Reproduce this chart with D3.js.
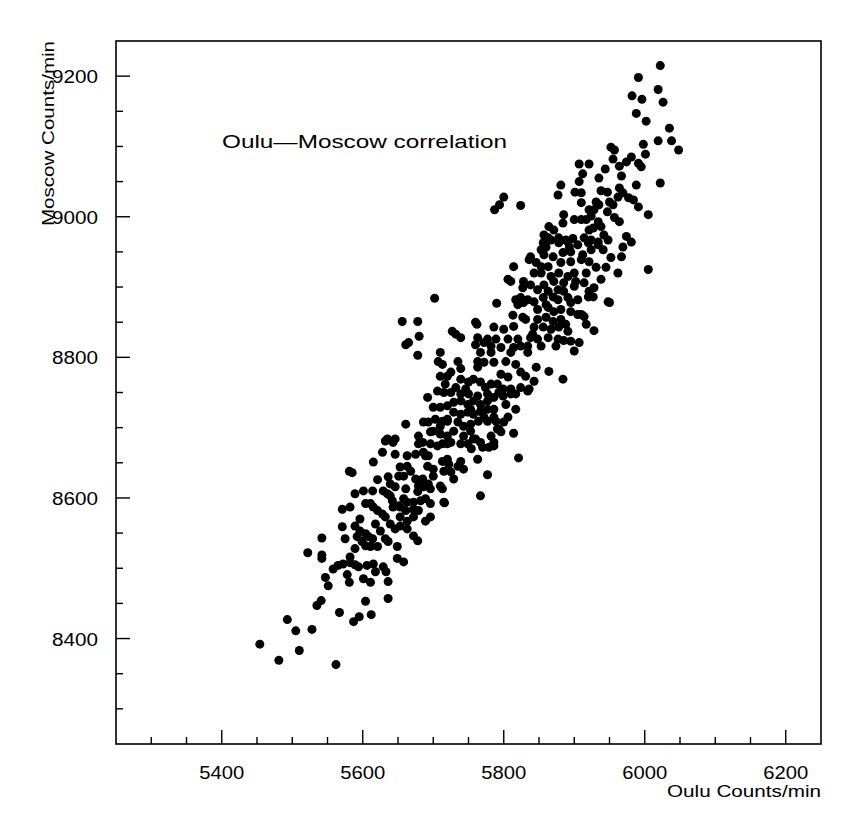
<!DOCTYPE html>
<html>
<head>
<meta charset="utf-8">
<script src="https://cdn.jsdelivr.net/npm/d3@7"></script>
<style>
  html, body { margin: 0; padding: 0; background: #ffffff; }
  svg { display: block; }
  text { font-family: "Liberation Sans", Arial, sans-serif; fill: #000; }
</style>
</head>
<body>
<svg id="chart" width="865" height="825"></svg>
<script>
// Oulu vs Moscow neutron monitor count rates (counts per minute)
const oulu = [
  5454,5481,5493,5505,5510,5528,5562,5535,5541,5567,5587,5595,5612,5604,5636,5547,5551,5558,5565,5572,
  5582,5589,5594,5578,5581,5601,5611,5615,5618,5633,5636,5542,
  5581,5585,5571,5582,5571,5542,5522,5542,5615,5628,5621,5601,5614,5636,5639,5629,5635,5639,
  5642,5653,5663,5668,5651,5658,5663,5675,5686,5689,5632,5643,5679,5706,5720,5713,5722,5675,
  5679,5678,5686,5693,5700,5713,5715,5658,5663,5653,5661,5672,5682,5611,5615,5621,5628,5632,
  5643,5651,5672,5679,5653,5663,5672,5696,5639,5646,5653,5663,5589,5596,5592,5604,5608,5614,
  5625,5599,5604,5611,5621,5636,5649,5672,5678,5589,5582,5649,5658,5606,5629,
  5821,5814,5777,5767,5716,5763,5754,5760,5770,5779,5786,5793,5806,5799,5810,5824,5834,5843,
  5692,5686,5696,5710,5720,5739,5735,5743,5729,5725,5715,5700,5692,5710,5696,5685,5689,5720,5693,
  5661,5665,5680,5678,5710,5707,5713,5735,5739,5732,5727,5763,5772,5777,5767,5782,5796,5763,
  5772,5786,5803,5763,5810,5824,5834,5824,5831,5836,5710,5720,5725,5739,5750,5757,5767,5782,
  5791,5806,5810,5817,5793,5799,5706,5715,5725,5739,5750,5763,5777,5786,5700,5710,5720,5729,
  5739,5749,5757,5767,5777,5786,5800,5777,5661,5693,5713,5720,5729,5739,5749,5757,5767,5735,
  5743,5753,5764,5777,5789,5791,5796,5782,5786,5635,5646,5679,5685,5700,5710,5720,5729,5743,
  5757,5767,5725,5739,5749,5713,
  5702,5656,5678,5739,5760,5760,
  5856,5867,5878,5891,5905,5920,5934,5836,5846,5857,5870,5884,5895,5912,5924,5941,5814,5853,
  5863,5881,5895,5910,5843,5853,5867,5878,5891,5900,5917,5931,5806,5810,5828,5827,5857,5871,
  5885,5900,5914,5848,5863,5877,5885,5921,5928,5927,5824,5834,5843,5856,5870,5877,5891,5905,
  5790,5895,5820,5828,5848,5863,5871,5914,5905,5895,5948,5813,5831,5848,5860,5870,5881,5762,
  5786,5800,5814,5843,5856,5867,5878,5891,5928,5789,5806,5820,5838,5848,5863,5877,5895,5907,
  5782,5814,5834,5853,5874,
  5969,5981,5967,6005,5962,5945,5950,5920,5910,5885,5900,
  5800,5794,5787,5824,5952,5957,5998,6001,5981,5974,5955,5964,5991,5995,5907,5921,5912,5944,
  5935,5967,5881,5907,5988,5877,5901,5910,5938,5947,5964,5969,5962,5910,5931,5935,5950,5955,
  5977,5984,5991,5921,5928,5947,5885,6005,5924,5900,5910,5917,5934,5957,5964,5864,5871,5884,
  5921,5927,5938,5974,5857,5863,5878,5888,5898,5914,5924,5942,5948,5860,5893,5934,5853,5838,
  5991,5982,5996,5988,6002,6022,6019,6026,6035,6038,6048,6019,6022,
  5884,5864,5846,
  5717,5732,5746,5774,5753,5772,5786,5703,5696,5753,5803,5817,5796,5817,
  5827,5841,5860,5881,5888,5917,5902,5938,5921,5952,5838,5817,
  5646,5661,5689,5696,5646,5596,5618,5632,5575,5604,5589
];
const moscow = [
  8392,8369,8427,8411,8383,8413,8363,8447,8454,8437,8424,8431,8434,8453,8457,8487,8475,8499,8504,8506,
  8508,8505,8502,8491,8480,8485,8480,8506,8495,8495,8481,8514,
  8638,8636,8584,8587,8559,8543,8522,8519,8651,8665,8626,8610,8610,8630,8620,8610,8606,8603,
  8596,8644,8645,8638,8631,8631,8660,8662,8665,8660,8681,8679,8677,8674,8677,8652,8648,8627,
  8617,8609,8616,8620,8631,8613,8594,8599,8594,8587,8582,8594,8596,8592,8587,8582,8577,8573,
  8587,8589,8584,8582,8573,8567,8573,8573,8563,8556,8560,8556,8560,8553,8545,8549,8545,8542,
  8553,8538,8532,8531,8531,8538,8531,8546,8539,8528,8516,8514,8509,8504,8502,
  8657,8692,8633,8603,8593,8655,8670,8684,8672,8672,8674,8698,8715,8755,8748,8757,8752,8766,
  8743,8708,8694,8702,8709,8652,8645,8641,8627,8637,8638,8641,8645,8617,8613,8627,8567,8655,8660,
  8818,8821,8830,8803,8807,8794,8790,8794,8784,8833,8837,8828,8821,8826,8807,8807,8814,8794,
  8793,8793,8794,8786,8807,8816,8807,8779,8773,8755,8773,8773,8779,8769,8765,8769,8765,8762,
  8762,8772,8755,8748,8750,8745,8752,8750,8750,8748,8748,8745,8748,8743,8729,8729,8731,8736,
  8738,8733,8738,8733,8738,8726,8708,8726,8705,8708,8709,8712,8722,8719,8722,8719,8723,8708,
  8702,8705,8709,8709,8709,8698,8694,8688,8679,8684,8684,8688,8679,8695,8691,8688,8695,8688,
  8684,8679,8679,8677,8677,8677,
  8884,8851,8851,8828,8850,8818,
  8963,8967,8963,8964,8960,8963,8964,8939,8935,8946,8943,8949,8950,8946,8953,8953,8929,8929,
  8929,8935,8936,8939,8920,8920,8915,8920,8915,8920,8920,8928,8911,8908,8908,8899,8903,8908,
  8906,8901,8906,8896,8894,8896,8894,8894,8899,8886,8885,8882,8879,8885,8886,8882,8885,8882,
  8877,8878,8875,8878,8868,8871,8865,8858,8861,8865,8879,8860,8854,8854,8857,8851,8854,8847,
  8843,8840,8844,8843,8843,8840,8843,8837,8838,8826,8826,8826,8828,8826,8828,8826,8823,8821,
  8816,8814,8816,8816,8816,
  8957,8964,8943,8925,8920,8928,8878,8886,8861,8824,8809,
  9028,9017,9010,9016,9099,9095,9103,9089,9085,9078,9082,9072,9076,9071,9075,9075,9061,9068,
  9055,9058,9045,9050,9045,9031,9035,9034,9037,9035,9041,9034,9028,9020,9021,9017,9021,9017,
  9027,9024,9014,9010,9010,9007,9003,9003,9001,8996,8996,8996,8993,8999,8993,8986,8981,8991,
  8981,8984,8986,8972,8974,8970,8970,8967,8969,8970,8967,8974,8967,8957,8957,8960,8953,8943,
  9198,9172,9167,9147,9136,9215,9181,9163,9126,9108,9095,9108,9048,
  8769,8780,8786,
  8762,8757,8755,8757,8726,8715,8715,8712,8677,8695,8733,8726,8776,8790,
  8857,8833,8875,8868,8847,8847,8908,8911,8936,8942,8903,8882,
  8662,8613,8599,8592,8616,8570,8563,8542,8542,8592,8606
];

const xMajor = [5400, 5600, 5800, 6000, 6200];
const yMajor = [8400, 8600, 8800, 9000, 9200];
const xTitle = "Oulu Counts/min";
const yTitle = "Moscow Counts/min";
const chartTitle = "Oulu\u2014Moscow correlation";

const svg = d3.select("#chart");
svg.append("rect").attr("width", 865).attr("height", 825).attr("fill", "#ffffff");

const frame = { left: 116, right: 821, top: 41, bottom: 744 };
const x = d3.scaleLinear().domain([5250, 6250]).range([frame.left, frame.right]);
const y = d3.scaleLinear().domain([8250, 9250]).range([frame.bottom, frame.top]);

// minor ticks every 50, major every 200, drawn inward from the frame
const xAll = d3.range(5300, 6250, 50);
const yAll = d3.range(8300, 9250, 50);

const gx = svg.append("g").attr("transform", `translate(0,${frame.bottom})`);
gx.selectAll("line").data(xAll).join("line")
  .attr("x1", d => x(d)).attr("x2", d => x(d))
  .attr("y1", 0).attr("y2", d => xMajor.includes(d) ? -14 : -7)
  .attr("stroke", "#000").attr("stroke-width", 1.4);
gx.selectAll("text").data(xMajor).join("text")
  .attr("x", d => x(d)).attr("y", 35)
  .attr("text-anchor", "middle")
  .attr("font-size", 18)
  .attr("textLength", 45).attr("lengthAdjust", "spacingAndGlyphs")
  .text(d => d);

const gy = svg.append("g").attr("transform", `translate(${frame.left},0)`);
gy.selectAll("line").data(yAll).join("line")
  .attr("y1", d => y(d)).attr("y2", d => y(d))
  .attr("x1", 0).attr("x2", d => yMajor.includes(d) ? 14 : 7)
  .attr("stroke", "#000").attr("stroke-width", 1.4);
gy.selectAll("text").data(yMajor).join("text")
  .attr("x", -18).attr("y", d => y(d) + 7)
  .attr("text-anchor", "end")
  .attr("font-size", 18)
  .attr("textLength", 46).attr("lengthAdjust", "spacingAndGlyphs")
  .text(d => d);

// frame
svg.append("rect")
  .attr("x", frame.left).attr("y", frame.top)
  .attr("width", frame.right - frame.left).attr("height", frame.bottom - frame.top)
  .attr("fill", "none").attr("stroke", "#000").attr("stroke-width", 1.6);

// axis titles and caption
svg.append("text")
  .attr("x", frame.right).attr("y", 797)
  .attr("text-anchor", "end").attr("font-size", 17)
  .attr("textLength", 154).attr("lengthAdjust", "spacingAndGlyphs")
  .text(xTitle);

svg.append("text")
  .attr("transform", `translate(54,${frame.top}) rotate(-90)`)
  .attr("text-anchor", "end").attr("font-size", 17)
  .attr("textLength", 185).attr("lengthAdjust", "spacingAndGlyphs")
  .text(yTitle);

svg.append("text")
  .attr("x", 222).attr("y", 148)
  .attr("font-size", 19)
  .attr("textLength", 285).attr("lengthAdjust", "spacingAndGlyphs")
  .text(chartTitle);

// data points
const n = Math.min(oulu.length, moscow.length);
const pts = d3.range(n).map(i => ({ ox: oulu[i], my: moscow[i] }));
svg.append("g").selectAll("circle").data(pts).join("circle")
  .attr("cx", d => x(d.ox))
  .attr("cy", d => y(d.my))
  .attr("r", 4.5)
  .attr("fill", "#000");
</script>
</body>
</html>
